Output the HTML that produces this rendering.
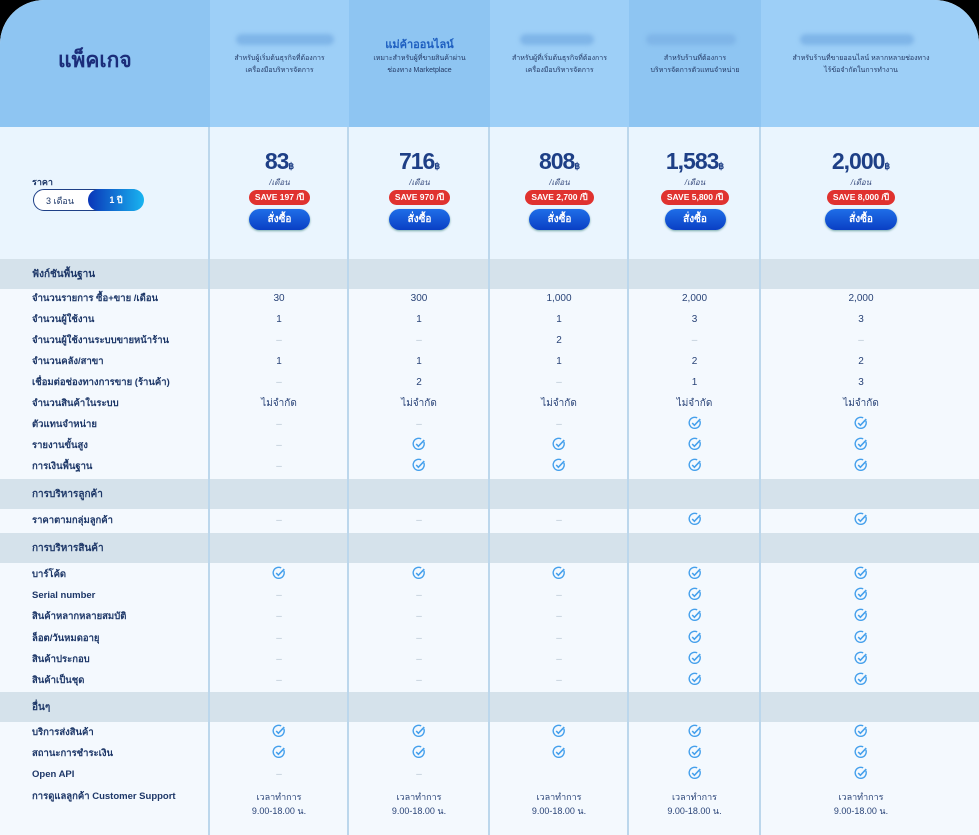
<!DOCTYPE html>
<html><head><meta charset="utf-8">
<style>
*{margin:0;padding:0;box-sizing:border-box}
body{width:979px;height:835px;background:#000;overflow:hidden;font-family:"Liberation Sans","Noto Sans CJK SC",sans-serif;color:#1d3768}
#w{position:absolute;left:0;top:0;width:979px;height:835px;border-radius:44px 44px 0 0;overflow:hidden;background:#f4f9fe}
.a{position:absolute}
.hc{position:absolute;top:0;height:127px}
.vl{position:absolute;top:127px;width:2px;height:708px;background:#bcd7ec}
.band{position:absolute;left:0;width:979px;height:30px;background:#d5e2eb}
.band span{position:absolute;left:32px;top:8px;font-size:10px;font-weight:bold;color:#1d3768}
.r{position:absolute;left:0;width:979px;height:21px;font-size:10px;color:#2a4478}
.r>div{position:absolute;top:0;height:21px;line-height:21px;text-align:center}
.r>.l{left:32px;text-align:left;font-weight:bold;font-size:9.5px;color:#1d3768}
.c1{left:210px;width:138px}.c2{left:349px;width:140px}.c3{left:490px;width:138px}.c4{left:629px;width:131px}.c5{left:761px;width:200px}
.d{color:#b9c6d3}
svg.k{width:14px;height:14px;vertical-align:middle;margin-top:-2px}
.price{position:absolute;top:148px;text-align:center}
.num{font-size:23px;font-weight:bold;color:#1e3f86;letter-spacing:-1px;line-height:26px}
.num small{font-size:9px;letter-spacing:0}
.mo{font-size:8px;color:#3b4f80;line-height:8px;font-style:italic}
.save{display:inline-block;margin-top:3px;background:#e0322f;color:#fff;font-size:8.5px;font-weight:bold;border-radius:8px;padding:2px 6px;line-height:11px;white-space:nowrap}
.btn{display:block;margin:4px auto 0;width:61px;height:21px;border-radius:11px;background:linear-gradient(#1f6ee8,#0a3fc4);color:#fff;font-size:10px;font-weight:bold;line-height:21px;box-shadow:0 1px 2px #7aa}
.blur{position:absolute;top:34px;height:11px;border-radius:6px;background:#7fb5e8;filter:blur(2px)}
.sub{position:absolute;top:53px;font-size:7px;line-height:12px;text-align:center;color:#243a66}
</style></head><body>
<svg width="0" height="0" style="position:absolute"><defs><symbol id="ck" viewBox="0 0 16 16"><path d="M13.5 5.5A6.3 6.3 0 1 1 10.5 2.2" fill="none" stroke="#45a0ec" stroke-width="1.6"/><path d="M4.8 8l2.5 2.6L14 3.5" fill="none" stroke="#45a0ec" stroke-width="1.8"/></symbol></defs></svg>
<div id="w">
<div class="hc" style="left:0;width:210px;background:#8ec5f2"></div>
<div class="hc" style="left:210px;width:139px;background:#9dcff7"></div>
<div class="hc" style="left:349px;width:141px;background:#8ec5f2"></div>
<div class="hc" style="left:490px;width:139px;background:#9dcff7"></div>
<div class="hc" style="left:629px;width:132px;background:#8ec5f2"></div>
<div class="hc" style="left:761px;width:218px;background:#9dcff7"></div>
<div class="a" style="left:0;top:127px;width:979px;height:132px;background:#eaf5fe"></div>
<div class="a" style="left:58px;top:44px;font-size:21px;font-weight:bold;color:#1b2d7a">แพ็คเกจ</div>

<div class="blur" style="left:236px;width:98px"></div>
<div class="sub" style="left:210px;width:139px">สำหรับผู้เริ่มต้นธุรกิจที่ต้องการ<br>เครื่องมือบริหารจัดการ</div>
<div class="a" style="left:349px;width:141px;top:35px;text-align:center;font-size:11px;font-weight:bold;color:#1e5fc0">แม่ค้าออนไลน์</div>
<div class="sub" style="left:349px;width:141px">เหมาะสำหรับผู้ที่ขายสินค้าผ่าน<br>ช่องทาง Marketplace</div>
<div class="blur" style="left:520px;width:74px"></div>
<div class="sub" style="left:490px;width:139px">สำหรับผู้ที่เริ่มต้นธุรกิจที่ต้องการ<br>เครื่องมือบริหารจัดการ</div>
<div class="blur" style="left:646px;width:90px"></div>
<div class="sub" style="left:629px;width:132px">สำหรับร้านที่ต้องการ<br>บริหารจัดการตัวแทนจำหน่าย</div>
<div class="blur" style="left:800px;width:114px"></div>
<div class="sub" style="left:761px;width:200px">สำหรับร้านที่ขายออนไลน์ หลากหลายช่องทาง<br>ไร้ข้อจำกัดในการทำงาน</div>

<div class="a" style="left:32px;top:175px;font-size:9px;font-weight:bold">ราคา</div>
<div class="a" style="left:33px;top:189px;width:110px;height:22px;border:1.5px solid #1e3f86;border-radius:11px;background:#fff;font-size:9px">
<span class="a" style="left:12px;top:4px">3 เดือน</span>
<div class="a" style="left:54px;top:-1.5px;width:56px;height:22px;border-radius:11px;background:linear-gradient(90deg,#0a36b8,#19b4f0);color:#fff;font-weight:bold;text-align:center;line-height:22px">1 ปี</div></div>

<div class="price" style="left:210px;width:139px"><div class="num">83<small>฿</small></div><div class="mo">/เดือน</div><span class="save">SAVE 197 /ปี</span><span class="btn">สั่งซื้อ</span></div>
<div class="price" style="left:349px;width:141px"><div class="num">716<small>฿</small></div><div class="mo">/เดือน</div><span class="save">SAVE 970 /ปี</span><span class="btn">สั่งซื้อ</span></div>
<div class="price" style="left:490px;width:139px"><div class="num">808<small>฿</small></div><div class="mo">/เดือน</div><span class="save">SAVE 2,700 /ปี</span><span class="btn">สั่งซื้อ</span></div>
<div class="price" style="left:629px;width:132px"><div class="num">1,583<small>฿</small></div><div class="mo">/เดือน</div><span class="save">SAVE 5,800 /ปี</span><span class="btn">สั่งซื้อ</span></div>
<div class="price" style="left:761px;width:200px"><div class="num">2,000<small>฿</small></div><div class="mo">/เดือน</div><span class="save">SAVE 8,000 /ปี</span><span class="btn" style="width:72px">สั่งซื้อ</span></div>

<div class="band" style="top:259px"><span>ฟังก์ชันพื้นฐาน</span></div>
<div class="band" style="top:479px"><span>การบริหารลูกค้า</span></div>
<div class="band" style="top:533px"><span>การบริหารสินค้า</span></div>
<div class="band" style="top:692px"><span>อื่นๆ</span></div>

<div class="vl" style="left:208px"></div><div class="vl" style="left:347px"></div><div class="vl" style="left:488px"></div><div class="vl" style="left:627px"></div><div class="vl" style="left:759px"></div>

<div class="r" style="top:288px"><div class="l">จำนวนรายการ ซื้อ+ขาย /เดือน</div><div class="c1">30</div><div class="c2">300</div><div class="c3">1,000</div><div class="c4">2,000</div><div class="c5">2,000</div></div>
<div class="r" style="top:309px"><div class="l">จำนวนผู้ใช้งาน</div><div class="c1">1</div><div class="c2">1</div><div class="c3">1</div><div class="c4">3</div><div class="c5">3</div></div>
<div class="r" style="top:330px"><div class="l">จำนวนผู้ใช้งานระบบขายหน้าร้าน</div><div class="c1 d">–</div><div class="c2 d">–</div><div class="c3">2</div><div class="c4 d">–</div><div class="c5 d">–</div></div>
<div class="r" style="top:351px"><div class="l">จำนวนคลัง/สาขา</div><div class="c1">1</div><div class="c2">1</div><div class="c3">1</div><div class="c4">2</div><div class="c5">2</div></div>
<div class="r" style="top:372px"><div class="l">เชื่อมต่อช่องทางการขาย (ร้านค้า)</div><div class="c1 d">–</div><div class="c2">2</div><div class="c3 d">–</div><div class="c4">1</div><div class="c5">3</div></div>
<div class="r" style="top:393px"><div class="l">จำนวนสินค้าในระบบ</div><div class="c1">ไม่จำกัด</div><div class="c2">ไม่จำกัด</div><div class="c3">ไม่จำกัด</div><div class="c4">ไม่จำกัด</div><div class="c5">ไม่จำกัด</div></div>
<div class="r" style="top:414px"><div class="l">ตัวแทนจำหน่าย</div><div class="c1 d">–</div><div class="c2 d">–</div><div class="c3 d">–</div><div class="c4"><svg class="k"><use href="#ck"/></svg></div><div class="c5"><svg class="k"><use href="#ck"/></svg></div></div>
<div class="r" style="top:435px"><div class="l">รายงานขั้นสูง</div><div class="c1 d">–</div><div class="c2"><svg class="k"><use href="#ck"/></svg></div><div class="c3"><svg class="k"><use href="#ck"/></svg></div><div class="c4"><svg class="k"><use href="#ck"/></svg></div><div class="c5"><svg class="k"><use href="#ck"/></svg></div></div>
<div class="r" style="top:456px"><div class="l">การเงินพื้นฐาน</div><div class="c1 d">–</div><div class="c2"><svg class="k"><use href="#ck"/></svg></div><div class="c3"><svg class="k"><use href="#ck"/></svg></div><div class="c4"><svg class="k"><use href="#ck"/></svg></div><div class="c5"><svg class="k"><use href="#ck"/></svg></div></div>

<div class="r" style="top:510px"><div class="l">ราคาตามกลุ่มลูกค้า</div><div class="c1 d">–</div><div class="c2 d">–</div><div class="c3 d">–</div><div class="c4"><svg class="k"><use href="#ck"/></svg></div><div class="c5"><svg class="k"><use href="#ck"/></svg></div></div>

<div class="r" style="top:564px"><div class="l">บาร์โค้ด</div><div class="c1"><svg class="k"><use href="#ck"/></svg></div><div class="c2"><svg class="k"><use href="#ck"/></svg></div><div class="c3"><svg class="k"><use href="#ck"/></svg></div><div class="c4"><svg class="k"><use href="#ck"/></svg></div><div class="c5"><svg class="k"><use href="#ck"/></svg></div></div>
<div class="r" style="top:585px"><div class="l">Serial number</div><div class="c1 d">–</div><div class="c2 d">–</div><div class="c3 d">–</div><div class="c4"><svg class="k"><use href="#ck"/></svg></div><div class="c5"><svg class="k"><use href="#ck"/></svg></div></div>
<div class="r" style="top:606px"><div class="l">สินค้าหลากหลายสมบัติ</div><div class="c1 d">–</div><div class="c2 d">–</div><div class="c3 d">–</div><div class="c4"><svg class="k"><use href="#ck"/></svg></div><div class="c5"><svg class="k"><use href="#ck"/></svg></div></div>
<div class="r" style="top:628px"><div class="l">ล็อต/วันหมดอายุ</div><div class="c1 d">–</div><div class="c2 d">–</div><div class="c3 d">–</div><div class="c4"><svg class="k"><use href="#ck"/></svg></div><div class="c5"><svg class="k"><use href="#ck"/></svg></div></div>
<div class="r" style="top:649px"><div class="l">สินค้าประกอบ</div><div class="c1 d">–</div><div class="c2 d">–</div><div class="c3 d">–</div><div class="c4"><svg class="k"><use href="#ck"/></svg></div><div class="c5"><svg class="k"><use href="#ck"/></svg></div></div>
<div class="r" style="top:670px"><div class="l">สินค้าเป็นชุด</div><div class="c1 d">–</div><div class="c2 d">–</div><div class="c3 d">–</div><div class="c4"><svg class="k"><use href="#ck"/></svg></div><div class="c5"><svg class="k"><use href="#ck"/></svg></div></div>

<div class="r" style="top:722px"><div class="l">บริการส่งสินค้า</div><div class="c1"><svg class="k"><use href="#ck"/></svg></div><div class="c2"><svg class="k"><use href="#ck"/></svg></div><div class="c3"><svg class="k"><use href="#ck"/></svg></div><div class="c4"><svg class="k"><use href="#ck"/></svg></div><div class="c5"><svg class="k"><use href="#ck"/></svg></div></div>
<div class="r" style="top:743px"><div class="l">สถานะการชำระเงิน</div><div class="c1"><svg class="k"><use href="#ck"/></svg></div><div class="c2"><svg class="k"><use href="#ck"/></svg></div><div class="c3"><svg class="k"><use href="#ck"/></svg></div><div class="c4"><svg class="k"><use href="#ck"/></svg></div><div class="c5"><svg class="k"><use href="#ck"/></svg></div></div>
<div class="r" style="top:764px"><div class="l">Open API</div><div class="c1 d">–</div><div class="c2 d">–</div><div class="c3"></div><div class="c4"><svg class="k"><use href="#ck"/></svg></div><div class="c5"><svg class="k"><use href="#ck"/></svg></div></div>
<div class="r" style="top:786px;height:34px"><div class="l">การดูแลลูกค้า Customer Support</div>
<div class="c1" style="line-height:14px;padding-top:4px;font-size:9px">เวลาทำการ<br>9.00-18.00 น.</div>
<div class="c2" style="line-height:14px;padding-top:4px;font-size:9px">เวลาทำการ<br>9.00-18.00 น.</div>
<div class="c3" style="line-height:14px;padding-top:4px;font-size:9px">เวลาทำการ<br>9.00-18.00 น.</div>
<div class="c4" style="line-height:14px;padding-top:4px;font-size:9px">เวลาทำการ<br>9.00-18.00 น.</div>
<div class="c5" style="line-height:14px;padding-top:4px;font-size:9px">เวลาทำการ<br>9.00-18.00 น.</div></div>
</div>
</body></html>
